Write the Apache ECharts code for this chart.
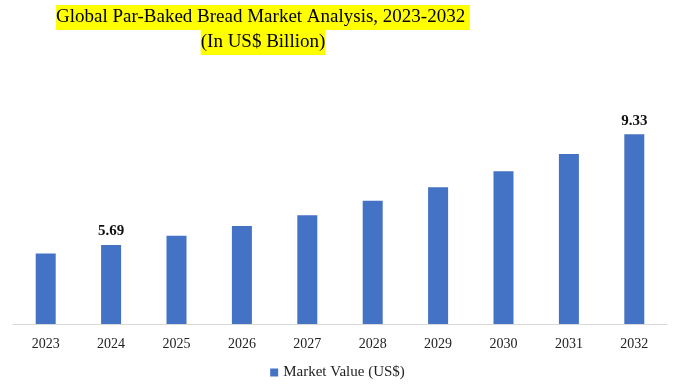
<!DOCTYPE html>
<html><head><meta charset="utf-8">
<script src="https://cdn.jsdelivr.net/npm/echarts@6/dist/echarts.min.js"></script>
<style>html,body{margin:0;padding:0;background:#fff}#c{width:675px;height:388px}</style>
</head><body><div id="c"></div>
<script>
const categories = ['2023','2024','2025','2026','2027','2028','2029','2030','2031','2032'];
const marketValue = [5.41, 5.69, 5.99, 6.31, 6.67, 7.14, 7.59, 8.11, 8.68, 9.33];
const labeledYears = ['2024','2032'];
const seriesName = 'Market Value (US$)';
const titleLine1 = 'Global Par-Baked Bread Market Analysis, 2023-2032 ';
const titleLine2 = '(In US$ Billion)';

const serif = '"Liberation Serif", "DejaVu Serif", serif';
const chart = echarts.init(document.getElementById('c'), null, {renderer:'canvas'});
chart.setOption({
  animation:false,
  backgroundColor:'#fff',
  title:{
    text:'{a|' + titleLine1 + '}\n{a|' + titleLine2 + '}',
    left:263, top:5, textAlign:'center', padding:0,
    textStyle:{
      fontWeight:'normal',
      rich:{a:{fontFamily:serif, fontSize:19, fontWeight:'normal', color:'#000', backgroundColor:'#ffff00', lineHeight:25, height:25, padding:[0,0,0,0]}}
    }
  },
  grid:{left:13, right:8, top:100, bottom:64},
  xAxis:{
    type:'category', data:categories,
    axisLine:{lineStyle:{color:'#d9d9d9', width:1}},
    axisTick:{show:false},
    axisLabel:{fontFamily:serif, fontSize:14, color:'#222', margin:13}
  },
  yAxis:{type:'value', min:3.09, max:10.456, show:false, splitLine:{show:false}},
  legend:{
    bottom:3, left:'center', itemWidth:8, itemHeight:8, icon:'rect', itemGap:10,
    textStyle:{fontFamily:serif, fontSize:15, color:'#222'},
    data:[seriesName]
  },
  series:[{
    name:seriesName, type:'bar', data:marketValue, barWidth:20,
    itemStyle:{color:'#4472C4'},
    label:{
      show:true, position:'top', distance:6,
      fontFamily:serif, fontSize:15, fontWeight:'bold', color:'#111',
      formatter:p => labeledYears.includes(p.name) ? p.value.toFixed(2) : ''
    }
  }]
});
</script></body></html>
